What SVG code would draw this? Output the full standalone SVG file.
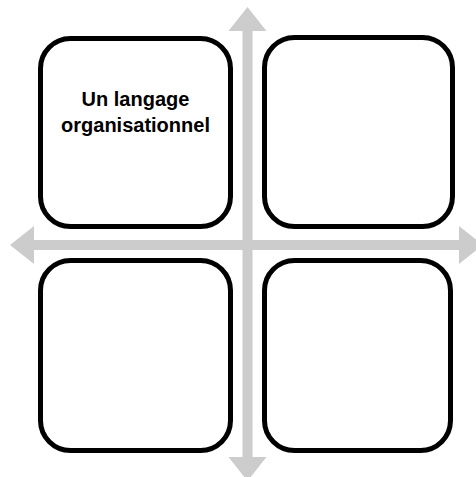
<svg xmlns="http://www.w3.org/2000/svg" width="476" height="477" viewBox="0 0 476 477">
<style>
.box{fill:#ffffff;stroke:#000000;stroke-width:5}
.arrow{fill:#cccccc;stroke:none}
.lbl{font-family:"Liberation Sans",Arial,sans-serif;font-weight:bold;font-size:20px;fill:#000000;text-anchor:middle}
</style>
<rect width="476" height="477" fill="#ffffff"/>
<g id="connectors">
<polygon class="arrow" points="247.5,7 266.5,31 252.5,31 252.5,457 266.5,457 247.5,481 228.5,457 242.5,457 242.5,31 228.5,31"/>
<polygon class="arrow" points="10,245 34,226 34,240 459,240 459,226 483,245 459,264 459,250 34,250 34,264"/>
</g>
<g id="node-tl">
<rect class="box" x="40.5" y="38.5" width="190" height="188" rx="30" ry="30"/>
<text class="lbl" x="135.5" y="106">Un langage</text>
<text class="lbl" x="135.5" y="131.5">organisationnel</text>
</g>
<g id="node-tr">
<rect class="box" x="264.5" y="37.5" width="188" height="189" rx="30" ry="30"/>
</g>
<g id="node-bl">
<rect class="box" x="40.5" y="260.5" width="190" height="190" rx="30" ry="30"/>
</g>
<g id="node-br">
<rect class="box" x="264.5" y="260.5" width="186" height="190" rx="30" ry="30"/>
</g>
</svg>
